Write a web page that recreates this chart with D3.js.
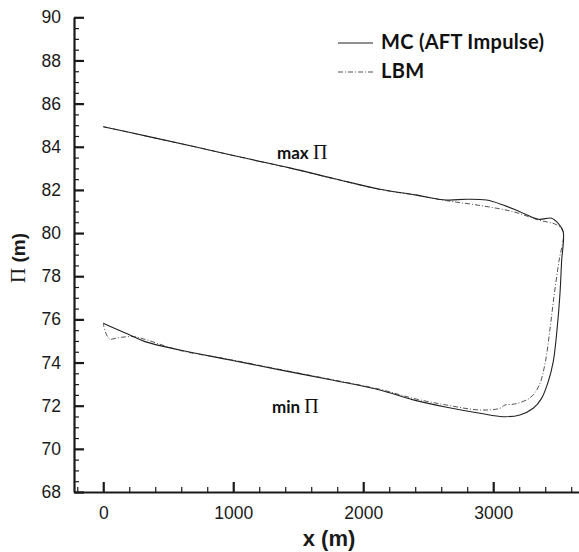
<!DOCTYPE html>
<html><head><meta charset="utf-8">
<script src="https://cdn.jsdelivr.net/npm/d3@7"></script>
<style>
body{margin:0;background:#fff;}
svg{display:block;}
</style></head>
<body>
<svg id="chart" width="579" height="552"></svg>
<script>
// ---- data ----
const xMajorTicks = [0, 1000, 2000, 3000];
const yMajorTicks = [68, 70, 72, 74, 76, 78, 80, 82, 84, 86, 88, 90];
const seriesNames = ["MC (AFT Impulse)", "LBM"];
// MC (AFT Impulse): top (max Π) -> right side -> bottom (min Π)
const mcX = [0,350,705,1070,1435,1780,2130,2400,2642,2795,2949,3077,3205,3346,3449,3500,3538,
  3526,3513,3492,3462,3423,3372,3308,3205,3077,2898,2642,2385,2128,1750,1359,975,590,321,205,103,0];
const mcY = [84.93,84.47,84.0,83.5,83.02,82.52,82.03,81.77,81.53,81.57,81.53,81.30,80.99,80.64,80.69,80.45,80.07,
  78.67,77.13,75.59,74.04,73.11,72.34,71.88,71.57,71.49,71.65,71.93,72.27,72.73,73.2,73.66,74.12,74.58,74.97,75.28,75.54,75.82];
// LBM
const lbmX = [0,350,705,1070,1435,1780,2130,2400,2642,2898,3154,3346,3488,3538,
  3505,3467,3436,3398,3352,3282,3167,3090,3052,2898,2642,2385,2128,1750,1359,975,590,334,231,142,90,52,26,0];
const lbmY = [84.93,84.47,84.0,83.5,83.01,82.51,82.02,81.76,81.5,81.28,80.99,80.61,80.38,80.07,
  78.67,77.04,75.51,73.93,72.92,72.36,72.08,72.03,71.88,71.80,72.03,72.34,72.76,73.22,73.68,74.14,74.56,75.05,75.2,75.17,75.12,75.08,75.28,75.79];

// ---- layout ----
const svg = d3.select("#chart");
const x = d3.scaleLinear().domain([-225, 3660]).range([74, 579]);
const y = d3.scaleLinear().domain([68, 90]).range([492, 17.3]);
const axisColor = "#1a1a1a";
const sansFont = "'Liberation Sans', Arial, sans-serif";

// minor ticks
const xMinor = d3.range(-200, 3601, 200).filter(v => !xMajorTicks.includes(v));
const yMinor = d3.range(68, 90.01, 0.5).filter(v => !yMajorTicks.includes(v));

const gxMinor = svg.append("g").attr("transform", "translate(0,492)")
  .call(d3.axisBottom(x).tickValues(xMinor).tickSize(-5).tickFormat(""));
gxMinor.select(".domain").remove();
gxMinor.selectAll("line").attr("stroke", axisColor).attr("stroke-width", 1.2);

const gyMinor = svg.append("g").attr("transform", "translate(74,0)")
  .call(d3.axisLeft(y).tickValues(yMinor).tickSize(-5).tickFormat(""));
gyMinor.select(".domain").remove();
gyMinor.selectAll("line").attr("stroke", axisColor).attr("stroke-width", 1.2);

const gx = svg.append("g").attr("transform", "translate(0,492)")
  .call(d3.axisBottom(x).tickValues(xMajorTicks).tickSize(-10).tickSizeOuter(0).tickPadding(15).tickFormat(d3.format("d")));
gx.select(".domain").attr("stroke", axisColor).attr("stroke-width", 2.2);
gx.selectAll("line").attr("stroke", axisColor).attr("stroke-width", 2.2);
gx.selectAll("text").attr("fill", axisColor).style("font-family", sansFont).style("font-size", "17.5px");

const gy = svg.append("g").attr("transform", "translate(74,0)")
  .call(d3.axisLeft(y).tickValues(yMajorTicks).tickSize(-10).tickSizeOuter(0).tickPadding(13).tickFormat(d3.format("d")));
gy.select(".domain").attr("stroke", axisColor).attr("stroke-width", 2.2);
gy.selectAll("line").attr("stroke", axisColor).attr("stroke-width", 2.2);
gy.selectAll("text").attr("fill", axisColor).style("font-family", sansFont).style("font-size", "17.5px");

// axis titles
svg.append("text").attr("x", 329).attr("y", 546).attr("text-anchor", "middle")
  .attr("fill", axisColor).style("font-family", sansFont).style("font-weight", "bold").style("font-size", "22px")
  .text("x (m)");

const yt = svg.append("text").attr("transform", "translate(25,258) rotate(-90)")
  .attr("text-anchor", "middle").attr("fill", axisColor);
yt.append("tspan").style("font-family", "'Liberation Serif', 'Times New Roman', serif").style("font-size", "21px").text("Π");
yt.append("tspan").style("font-family", sansFont).style("font-weight", "bold").style("font-size", "19px").text(" (m)");

// curves
const line = d3.line().x(d => x(d[0])).y(d => y(d[1])).curve(d3.curveCatmullRom.alpha(0.5));
const mcData = mcX.map((v, i) => [v, mcY[i]]);
const lbmData = lbmX.map((v, i) => [v, lbmY[i]]);

svg.append("path").datum(lbmData).attr("d", line).attr("fill", "none")
  .attr("stroke", "#555").attr("stroke-width", 1).attr("stroke-dasharray", "5,2,1,2");
svg.append("path").datum(mcData).attr("d", line).attr("fill", "none")
  .attr("stroke", "#222").attr("stroke-width", 1.1);

// annotations
const calFont = "Lato, 'Open Sans', sans-serif";
function annot(xp, yp, word) {
  const t = svg.append("text").attr("x", xp).attr("y", yp).attr("fill", "#111");
  t.append("tspan").style("font-family", calFont).style("font-weight", "bold").style("font-size", "17px").text(word + " ");
  t.append("tspan").style("font-family", "'Liberation Serif', 'Times New Roman', serif").style("font-size", "20px").text("Π");
}
annot(277, 159, "max");
annot(272, 413, "min");

// legend
const legendY = [43, 72];
const legendDash = [null, "5,2,1,2"];
const legendStroke = ["#222", "#555"];
seriesNames.forEach((name, i) => {
  svg.append("line").attr("x1", 338).attr("x2", 373).attr("y1", legendY[i]).attr("y2", legendY[i])
    .attr("stroke", legendStroke[i]).attr("stroke-width", 1.2)
    .attr("stroke-dasharray", legendDash[i]);
  svg.append("text").attr("x", 381).attr("y", legendY[i] + 6).attr("fill", "#111")
    .style("font-family", calFont).style("font-weight", "bold").style("font-size", "20px")
    .style("letter-spacing", "0.3px").text(name);
});
</script>
</body></html>
